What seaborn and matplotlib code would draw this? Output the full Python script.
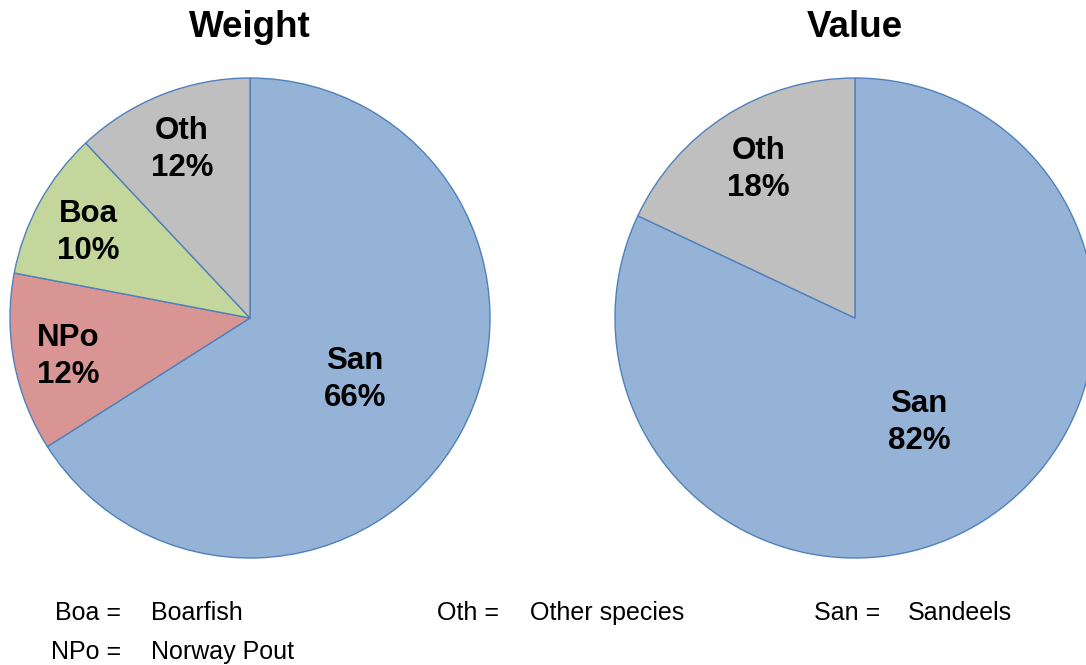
import matplotlib
matplotlib.use("Agg")
import matplotlib.pyplot as plt
import seaborn as sns
import numpy as np

# data
weight_labels = ["San", "NPo", "Boa", "Oth"]
weight_values = [66, 12, 10, 12]
value_labels = ["San", "Oth"]
value_values = [82, 18]

species_colors = {"San": "#95B3D7", "NPo": "#D99594", "Boa": "#C3D69B", "Oth": "#BFBFBF"}

legend_codes = ["Boa =", "NPo =", "Oth =", "San ="]
legend_names = ["Boarfish", "Norway Pout", "Other species", "Sandeels"]

sns.set_theme(style="white")
plt.rcParams["font.family"] = ["Liberation Sans", "DejaVu Sans"]
plt.rcParams["text.color"] = "black"

fig = plt.figure(figsize=(10.86, 6.65), dpi=100)


def pie_chart(rect, labels, values, label_dist=None):
    """
    Draw one pie in the given figure rectangle, slices clockwise from 12 o'clock.
    :param rect: axes rectangle in figure fraction
    :param labels: slice labels
    :param values: slice percentages
    :param label_dist: optional dict of label -> radius fraction for the text
    :return: the axes
    """
    ax = fig.add_axes(rect)
    colors = [species_colors[l] for l in labels]
    wedges, texts = ax.pie(values, colors=colors, startangle=90, counterclock=False,
                           radius=1.0, labels=[f"{l}\n{v}%" for l, v in zip(labels, values)],
                           labeldistance=0.77,
                           wedgeprops=dict(edgecolor="#4F81BD", linewidth=1.0),
                           textprops=dict(fontsize=22.5, fontweight="bold", color="black",
                                          linespacing=1.3))
    for w, t, l in zip(wedges, texts, labels):
        t.set_ha("center")
        t.set_va("center")
        dist = (label_dist or {}).get(l, 0.77)
        ang = np.deg2rad((w.theta1 + w.theta2) / 2)
        # nudge a few pixels down to sit like the original
        t.set_position((dist * np.cos(ang), dist * np.sin(ang) - 0.015))
    ax.set_xlim(-1, 1)
    ax.set_ylim(-1, 1)
    ax.set_aspect("equal")
    ax.axis("off")
    return ax


W, H = 1086, 665
r = 240
pie_chart([(250 - r) / W, (H - 558) / H, 2 * r / W, 2 * r / H],
          weight_labels, weight_values, label_dist={"San": 0.5})
pie_chart([(855 - r) / W, (H - 558) / H, 2 * r / W, 2 * r / H],
          value_labels, value_values, label_dist={"San": 0.5, "Oth": 0.75})

fig.text(250 / W, 1 - 37 / H, "Weight", ha="center", va="baseline", fontsize=26.5, fontweight="bold")
fig.text(855 / W, 1 - 37 / H, "Value", ha="center", va="baseline", fontsize=26.5, fontweight="bold")

# bottom key
code_x = [121, 121, 499, 880]
name_x = [151, 151, 530, 908]
row_y = [620, 659, 620, 620]
for code, name, cx, nx, ry in zip(legend_codes, legend_names, code_x, name_x, row_y):
    fig.text(cx / W, 1 - ry / H, code, ha="right", va="baseline", fontsize=18)
    fig.text(nx / W, 1 - ry / H, name, ha="left", va="baseline", fontsize=18)

fig.savefig("out.png", dpi=100)
